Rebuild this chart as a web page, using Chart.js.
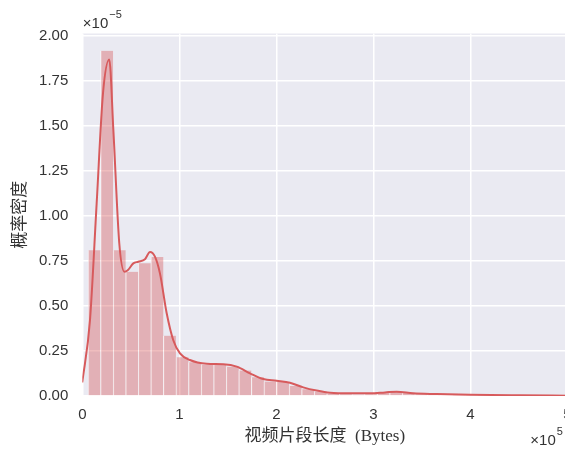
<!DOCTYPE html>
<html>
<head>
<meta charset="utf-8">
<script src="https://cdn.jsdelivr.net/npm/chart.js@4/dist/chart.umd.min.js"></script>
<style>
  html, body { margin: 0; padding: 0; background: #ffffff; overflow: hidden; }
  #wrap { width: 600px; height: 449px; position: relative; }
</style>
</head>
<body>
<div id="wrap"><canvas id="chart" width="600" height="449"></canvas></div>
<script>
// Histogram bin edges (×10^5 Bytes) and densities per bin (×10^-5)
const binEdges = [0.058, 0.188, 0.317, 0.447, 0.576, 0.706, 0.836, 0.965, 1.095, 1.224,
                  1.354, 1.483, 1.613, 1.743, 1.872, 2.002, 2.131, 2.261, 2.390, 2.520,
                  2.650, 2.779, 2.909, 3.038, 3.168, 3.297, 3.427, 3.557, 3.686, 3.816,
                  3.945, 4.075, 4.204, 4.334];
const binDensity = [0.81, 1.918, 0.81, 0.69, 0.737, 0.772, 0.335, 0.215, 0.187, 0.172,
                    0.172, 0.163, 0.141, 0.104, 0.080, 0.078, 0.056, 0.037, 0.024, 0.012,
                    0.010, 0.008, 0.010, 0.016, 0.022, 0.018, 0.010, 0.006, 0.004, 0.003,
                    0.003, 0.002, 0.002];

// Kernel density estimate
const kdeX = [0.000, 0.079, 0.148, 0.213, 0.278, 0.320, 0.381, 0.435, 0.471, 0.526,
              0.577, 0.646, 0.698, 0.749, 0.801, 0.870, 0.938, 1.007, 1.110, 1.282,
              1.454, 1.592, 1.729, 1.866, 2.004, 2.141, 2.278, 2.416, 2.554, 2.760,
              2.966, 3.121, 3.241, 3.409, 3.654, 3.997, 4.513, 5.000];
const kdeY = [0.075, 0.42, 1.07, 1.68, 1.87, 1.48, 0.85, 0.69, 0.70, 0.737,
              0.746, 0.76, 0.80, 0.774, 0.68, 0.46, 0.31, 0.237, 0.20, 0.179,
              0.176, 0.163, 0.126, 0.094, 0.085, 0.074, 0.048, 0.030, 0.018, 0.015,
              0.015, 0.020, 0.024, 0.015, 0.011, 0.007, 0.004, 0.002];

// Axis ticks and labels
const xTicks = [0, 1, 2, 3, 4, 5];
const yTicks = [0, 0.25, 0.5, 0.75, 1.0, 1.25, 1.5, 1.75, 2.0];
const yMax = 2.014;
const xLabel = '视频片段长度  (Bytes)';
const yLabel = '概率密度';
const xExponent = '5';
const yExponent = '−5';

const lineColor = '#d75a5c';
const barColor = 'rgba(215, 90, 92, 0.40)';
const panelColor = '#eaeaf2';
const textColor = '#333333';

const histPoints = binDensity.map((d, i) => ({ x: (binEdges[i] + binEdges[i + 1]) / 2, y: d }));
const kdePoints = kdeX.map((x, i) => ({ x: x, y: kdeY[i] }));

// Shaded panel behind the plot, plus the "×10^n" offset labels
const panelPlugin = {
  id: 'panel',
  beforeDraw(chart) {
    const { ctx, chartArea: a } = chart;
    ctx.save();
    ctx.fillStyle = panelColor;
    ctx.fillRect(a.left, a.top, a.right - a.left, a.bottom - a.top);
    ctx.restore();
  },
  afterDraw(chart) {
    const { ctx, chartArea: a } = chart;
    ctx.save();
    ctx.fillStyle = textColor;
    ctx.textBaseline = 'alphabetic';
    ctx.textAlign = 'left';
    const base = '15px "Liberation Sans", Arial, sans-serif';
    const sup = '11px "Liberation Sans", Arial, sans-serif';
    // y offset label above the panel
    ctx.font = base;
    let x0 = a.left + 0.5;
    ctx.fillText('×10', x0, a.top - 6);
    let w = ctx.measureText('×10').width;
    ctx.font = sup;
    ctx.fillText(yExponent, x0 + w + 1, a.top - 16);
    // x offset label at the lower right
    ctx.font = base;
    x0 = a.right - 37;
    ctx.fillText('×10', x0, chart.height - 4);
    w = ctx.measureText('×10').width;
    ctx.font = sup;
    ctx.fillText(xExponent, x0 + w + 1, chart.height - 14);
    ctx.restore();
  }
};

new Chart(document.getElementById('chart'), {
  type: 'bar',
  data: {
    datasets: [
      {
        type: 'line',
        data: kdePoints,
        borderColor: lineColor,
        borderWidth: 2,
        pointRadius: 0,
        fill: false,
        cubicInterpolationMode: 'monotone',
        order: 0
      },
      {
        type: 'bar',
        data: histPoints,
        backgroundColor: barColor,
        borderColor: 'rgba(255, 255, 255, 0.55)',
        borderWidth: { left: 1, right: 0, top: 0, bottom: 0 },
        borderSkipped: false,
        barPercentage: 1.0,
        categoryPercentage: 1.0,
        grouped: false,
        order: 1
      }
    ]
  },
  options: {
    responsive: false,
    animation: false,
    events: [],
    layout: { padding: { top: 33.5, right: 32.7, left: 0, bottom: 0 } },
    plugins: { legend: { display: false }, tooltip: { enabled: false } },
    scales: {
      x: {
        type: 'linear',
        offset: false,
        min: 0,
        max: 5,
        afterBuildTicks(scale) { scale.ticks = xTicks.map(v => ({ value: v })); },
        afterFit(scale) { scale.height = 53; },
        grid: { color: '#ffffff', lineWidth: 1.5, drawTicks: false, offset: false },
        border: { display: false },
        ticks: {
          padding: 10,
          color: textColor,
          font: { family: '"Liberation Sans", Arial, sans-serif', size: 15 },
          callback: v => String(v)
        },
        title: {
          display: true,
          text: xLabel,
          color: textColor,
          padding: { top: 0, bottom: 2 },
          font: { family: '"Liberation Serif", "Noto Sans CJK SC", serif', size: 17 }
        }
      },
      y: {
        type: 'linear',
        min: 0,
        max: yMax,
        afterBuildTicks(scale) { scale.ticks = yTicks.map(v => ({ value: v })); },
        afterFit(scale) { scale.width = 82.3; },
        grid: { color: '#ffffff', lineWidth: 1.5, drawTicks: false },
        border: { display: false },
        ticks: {
          padding: 14,
          color: textColor,
          font: { family: '"Liberation Sans", Arial, sans-serif', size: 15 },
          callback: v => Number(v).toFixed(2)
        },
        title: {
          display: true,
          text: yLabel,
          color: textColor,
          padding: { top: 8, bottom: 0 },
          font: { family: '"Noto Sans CJK SC", sans-serif', size: 17 }
        }
      }
    }
  },
  plugins: [panelPlugin]
});
</script>
</body>
</html>
